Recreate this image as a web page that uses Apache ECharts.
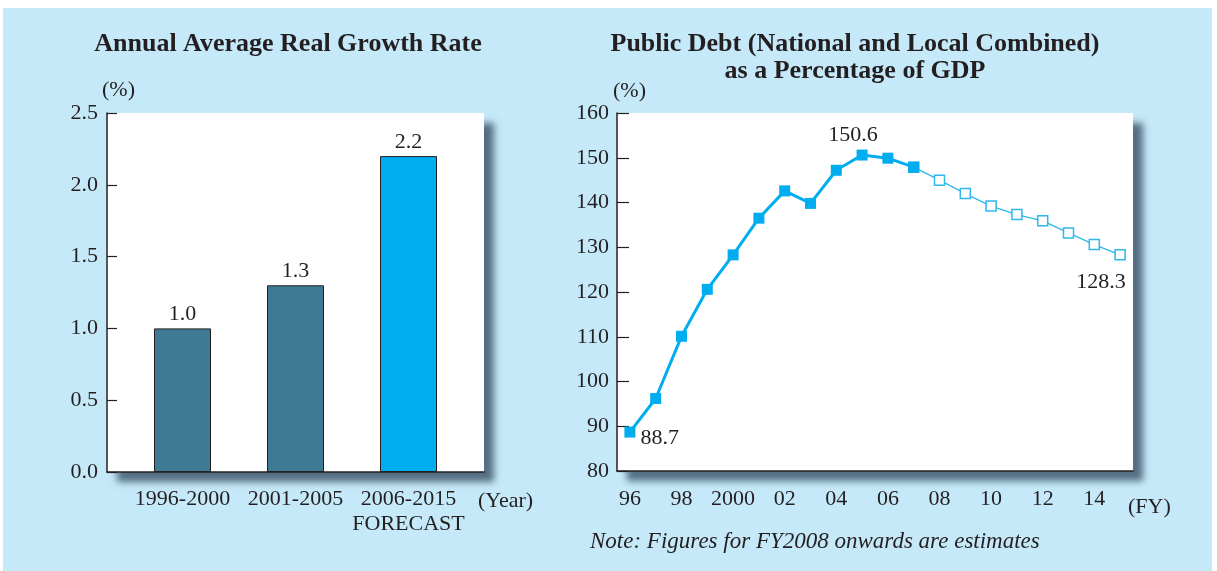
<!DOCTYPE html>
<html>
<head>
<meta charset="utf-8">
<title>Growth and Public Debt</title>
<script src="https://cdn.jsdelivr.net/npm/echarts@6/dist/echarts.min.js"></script>
<style>
  html, body { margin: 0; padding: 0; background: #fff; }
  #chart { width: 1217px; height: 571px; }
</style>
</head>
<body>
<div id="chart"></div>
<script>
// left panel: annual average real growth rate (%)
var periods = ['1996-2000', '2001-2005', '2006-2015\nFORECAST'];
var growth = [1.0, 1.3, 2.2];
var forecastIndex = 2;

// right panel: public debt as % of GDP
var fiscalYears = ['96', '97', '98', '99', '2000', '01', '02', '03', '04', '05',
                   '06', '07', '08', '09', '10', '11', '12', '13', '14', '15'];
var debtActual = [88.7, 96.2, 110.1, 120.6, 128.3, 136.5, 142.6, 139.8, 147.2, 150.6,
                  149.9, 147.9, null, null, null, null, null, null, null, null];
var debtEstimate = [null, null, null, null, null, null, null, null, null, null,
                    null, 147.9, 145.0, 142.0, 139.2, 137.3, 135.9, 133.2, 130.6, 128.3];

var ink = '#231f20';
var serif = '"Liberation Serif", "Times New Roman", serif';
var blue = '#00aeef';
var fs = 22;

var myChart = echarts.init(document.getElementById('chart'));

var frameShadow = {
    show: true,
    backgroundColor: '#ffffff',
    borderWidth: 0,
    shadowColor: 'rgba(45, 70, 90, 0.75)',
    shadowBlur: 7,
    shadowOffsetX: 10,
    shadowOffsetY: 10
};

// labels only on the first, peak and last points
var actualData = debtActual.map(function (v, i) {
    if (i === 0) return { value: v, label: { show: true, position: 'right', distance: 5, offset: [0, 6] } };
    if (i === 9) return { value: v, label: { show: true, position: 'top', distance: 9, offset: [-9, 6] } };
    return v;
});
var estimateData = debtEstimate.map(function (v, i) {
    if (i === 19) return { value: v, label: { show: true, position: 'bottom', distance: 11, offset: [-19, 0] } };
    return v;
});

option = {
    animation: false,
    textStyle: { fontFamily: serif, color: ink },
    graphic: [
        { type: 'rect', z: -10, silent: true, shape: { x: 3, y: 8, width: 1209, height: 563 },
          style: { fill: '#c6e9f9' } },
        { type: 'text', x: 288, y: 31, style: { text: 'Annual Average Real Growth Rate', align: 'center',
          verticalAlign: 'top', font: 'bold 26px ' + serif, fill: ink } },
        { type: 'text', x: 855, y: 31, style: { text: 'Public Debt (National and Local Combined)\nas a Percentage of GDP',
          align: 'center', verticalAlign: 'top', font: 'bold 26px ' + serif, fill: ink, lineHeight: 27 } },
        { type: 'text', left: 102, top: 79, style: { text: '(%)', font: fs + 'px ' + serif, fill: ink } },
        { type: 'text', left: 613, top: 80, style: { text: '(%)', font: fs + 'px ' + serif, fill: ink } },
        { type: 'text', left: 478, top: 490, style: { text: '(Year)', font: fs + 'px ' + serif, fill: ink } },
        { type: 'text', left: 1128, top: 496, style: { text: '(FY)', font: fs + 'px ' + serif, fill: ink } },
        { type: 'text', left: 590, top: 530, style: { text: 'Note: Figures for FY2008 onwards are estimates',
          font: 'italic 23px ' + serif, fill: ink } }
    ],
    grid: [
        Object.assign({ left: 107, top: 113, width: 377, height: 359 }, frameShadow),
        { left: 126, top: 113, width: 339, height: 359 },
        Object.assign({ left: 617, top: 113, width: 516, height: 358 }, frameShadow)
    ],
    xAxis: [
        { gridIndex: 0, type: 'value', min: 0, max: 1,
          axisLine: { show: true, onZero: false, lineStyle: { color: ink, width: 1.5 } },
          axisTick: { show: false }, axisLabel: { show: false }, splitLine: { show: false } },
        { gridIndex: 1, type: 'category', data: periods,
          axisLine: { show: false }, axisTick: { show: false },
          axisLabel: { interval: 0, hideOverlap: false, color: ink, fontSize: fs, fontFamily: serif,
                       margin: 15, lineHeight: 25 } },
        { gridIndex: 2, type: 'category', data: fiscalYears, boundaryGap: true,
          axisLine: { lineStyle: { color: ink, width: 1.5 } },
          axisTick: { inside: true, length: 8, interval: 0, lineStyle: { color: ink, width: 1.2 } },
          axisLabel: { interval: 1, color: ink, fontSize: fs, fontFamily: serif, margin: 17 } }
    ],
    yAxis: [
        { gridIndex: 0, type: 'value', min: 0, max: 2.5, interval: 0.5,
          axisLine: { show: true, lineStyle: { color: ink, width: 1.5 } },
          axisTick: { show: true, inside: true, length: 10, lineStyle: { color: ink, width: 1.2 } },
          axisLabel: { color: ink, fontSize: fs, fontFamily: serif, margin: 9,
                       formatter: function (v) { return v.toFixed(1); } },
          splitLine: { show: false } },
        { gridIndex: 1, type: 'value', min: 0, max: 2.5, show: false },
        { gridIndex: 2, type: 'value', min: 80, max: 160, interval: 10,
          axisLine: { show: true, lineStyle: { color: ink, width: 1.5 } },
          axisTick: { show: true, inside: true, length: 12, lineStyle: { color: ink, width: 1.2 } },
          axisLabel: { color: ink, fontSize: fs, fontFamily: serif, margin: 8 },
          splitLine: { show: false } }
    ],
    series: [
        { type: 'bar', xAxisIndex: 1, yAxisIndex: 1, data: growth, barWidth: 57,
          itemStyle: {
              borderColor: ink, borderWidth: 1,
              color: function (p) { return p.dataIndex === forecastIndex ? blue : '#3e7a94'; }
          },
          label: { show: true, position: 'top', distance: 3, color: ink, fontSize: fs, fontFamily: serif,
                   formatter: function (p) { return p.value.toFixed(1); } } },
        { type: 'line', xAxisIndex: 2, yAxisIndex: 2, data: estimateData, z: 3,
          symbol: 'rect', symbolSize: 10, showAllSymbol: true,
          lineStyle: { color: '#2fb8ec', width: 1.3 },
          itemStyle: { color: '#ffffff', borderColor: '#2fb8ec', borderWidth: 1.5 },
          label: { color: ink, fontSize: fs, fontFamily: serif } },
        { type: 'line', xAxisIndex: 2, yAxisIndex: 2, data: actualData, z: 4,
          symbol: 'rect', symbolSize: 11, showAllSymbol: true,
          lineStyle: { color: blue, width: 3 },
          itemStyle: { color: blue, borderWidth: 0 },
          label: { color: ink, fontSize: fs, fontFamily: serif } }
    ]
};
myChart.setOption(option);
</script>
</body>
</html>
